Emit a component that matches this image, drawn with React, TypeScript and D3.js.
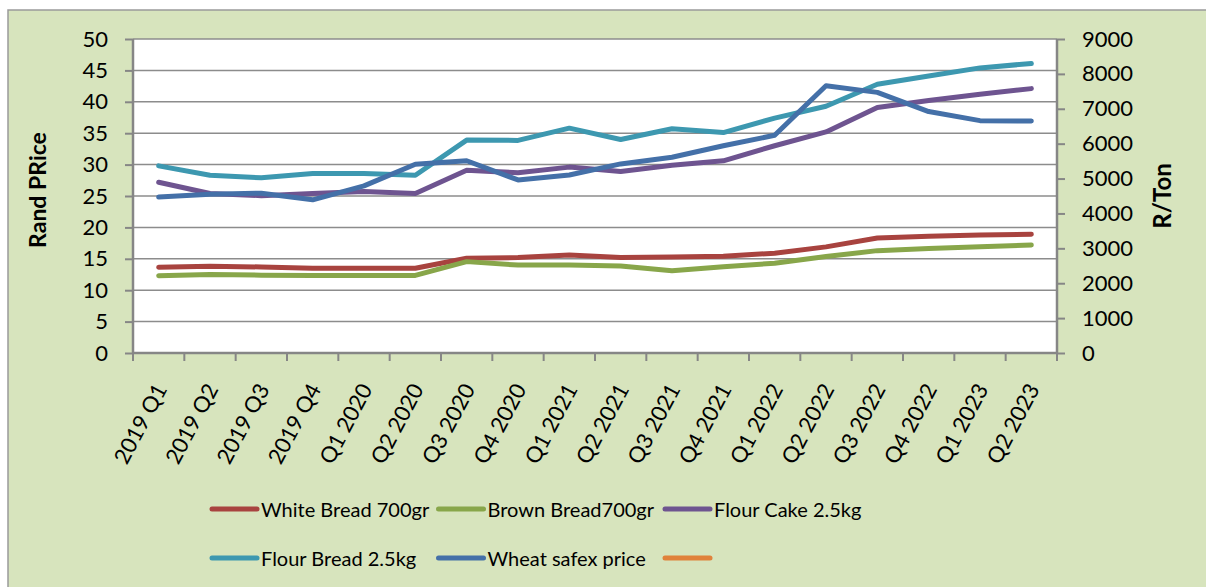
import React, { useRef, useEffect } from "react";
import { select, scaleLinear, scaleBand, line, axisLeft, axisRight, axisBottom } from "d3";

const quarters = [
  "2019 Q1", "2019 Q2", "2019 Q3", "2019 Q4", "Q1 2020", "Q2 2020",
  "Q3 2020", "Q4 2020", "Q1 2021", "Q2 2021", "Q3 2021", "Q4 2021",
  "Q1 2022", "Q2 2022", "Q3 2022", "Q4 2022", "Q1 2023", "Q2 2023",
];

const whiteBread = [13.65, 13.8, 13.7, 13.5, 13.5, 13.5, 15.1, 15.2, 15.6, 15.2, 15.3, 15.4, 15.9, 16.9, 18.3, 18.6, 18.8, 18.9];
const brownBread = [12.3, 12.5, 12.4, 12.35, 12.35, 12.35, 14.55, 14.0, 14.0, 13.85, 13.1, 13.75, 14.3, 15.35, 16.3, 16.65, 16.9, 17.2];
const flourCake = [27.2, 25.4, 25.05, 25.4, 25.7, 25.4, 29.1, 28.7, 29.6, 28.9, 29.9, 30.6, 33.0, 35.2, 39.1, 40.2, 41.2, 42.1];
const flourBread = [29.8, 28.3, 27.9, 28.6, 28.6, 28.3, 33.9, 33.85, 35.8, 34.0, 35.7, 35.1, 37.4, 39.3, 42.8, 44.1, 45.4, 46.1];
const wheatSafex = [4470, 4550, 4580, 4390, 4790, 5410, 5510, 4960, 5100, 5420, 5610, 5940, 6240, 7660, 7470, 6920, 6660, 6650];

const leftTicks = [0, 5, 10, 15, 20, 25, 30, 35, 40, 45, 50];
const rightTicks = [0, 1000, 2000, 3000, 4000, 5000, 6000, 7000, 8000, 9000];

const series = [
  { name: "White Bread 700gr", values: whiteBread, color: "#a8433f", axis: "left" },
  { name: "Brown Bread700gr", values: brownBread, color: "#88a64a", axis: "left" },
  { name: "Flour Cake 2.5kg", values: flourCake, color: "#6e5490", axis: "left" },
  { name: "Flour Bread 2.5kg", values: flourBread, color: "#3d98b0", axis: "left" },
  { name: "Wheat safex price", values: wheatSafex, color: "#4470a8", axis: "right" },
  { name: "", values: [] as number[], color: "#e0823b", axis: "left" },
];

const font = "Lato, 'Open Sans', sans-serif";

export default function App() {
  const svgRef = useRef<SVGSVGElement>(null);

  useEffect(() => {
    const svg = select(svgRef.current);
    svg.selectAll("*").remove();

    const left = 133, right = 1057, top = 39, bottom = 353;

    // background frame
    svg.append("rect")
      .attr("x", 8).attr("y", 10).attr("width", 1210).attr("height", 600)
      .attr("fill", "#d7e4bd").attr("stroke", "#9a9a9a").attr("stroke-width", 1.5);
    svg.append("rect")
      .attr("x", left).attr("y", top).attr("width", right - left).attr("height", bottom - top)
      .attr("fill", "#ffffff");

    const x = scaleBand().domain(quarters).range([left, right]);
    const yL = scaleLinear().domain([0, 50]).range([bottom, top]);
    const yR = scaleLinear().domain([0, 9000]).range([bottom, top]);

    // gridlines
    svg.append("g")
      .selectAll("line")
      .data(leftTicks)
      .join("line")
      .attr("x1", left).attr("x2", right)
      .attr("y1", (d) => yL(d)).attr("y2", (d) => yL(d))
      .attr("stroke", "#8c8c8c").attr("stroke-width", 1.5);

    // left axis
    const gL = svg.append("g").attr("transform", `translate(${left},0)`)
      .call(axisLeft(yL).tickValues(leftTicks).tickSize(8).tickPadding(17));
    // right axis
    const gR = svg.append("g").attr("transform", `translate(${right},0)`)
      .call(axisRight(yR).tickValues(rightTicks).tickSize(8).tickPadding(17).tickFormat((d) => String(d)));
    // bottom axis, ticks at category boundaries
    const gB = svg.append("g").attr("transform", `translate(0,${bottom})`)
      .call(axisBottom(x).tickSize(0).tickFormat(() => ""));
    gB.selectAll(".bnd")
      .data([...quarters.map((q) => x(q) as number), right])
      .join("line")
      .attr("class", "bnd")
      .attr("x1", (d) => d).attr("x2", (d) => d)
      .attr("y1", 0).attr("y2", 8);

    [gL, gR, gB].forEach((g) => {
      g.selectAll("path").attr("stroke", "#868686").attr("stroke-width", 2.5);
      g.selectAll("line").attr("stroke", "#868686").attr("stroke-width", 2);
      g.selectAll("text")
        .attr("font-family", font).attr("font-size", 22).attr("fill", "#000");
    });
    gL.select(".domain").attr("d", `M0,${top}V${bottom}`);
    gR.select(".domain").attr("d", `M0,${top}V${bottom}`);
    gB.select(".domain").attr("d", `M${left},0H${right}`);

    // rotated x labels
    svg.append("g")
      .selectAll("text")
      .data(quarters)
      .join("text")
      .attr("transform", (d) => `translate(${(x(d) as number) + x.bandwidth() / 2 + 9},389) rotate(-62)`)
      .attr("text-anchor", "end")
      .attr("font-family", font).attr("font-size", 22)
      .text((d) => d);

    // axis titles
    svg.append("text")
      .attr("transform", "translate(46,190) rotate(-90)")
      .attr("text-anchor", "middle")
      .attr("font-family", font).attr("font-size", 23).attr("font-weight", "bold")
      .text("Rand PRice");
    svg.append("text")
      .attr("transform", "translate(1171,196) rotate(-90)")
      .attr("text-anchor", "middle")
      .attr("font-family", font).attr("font-size", 24).attr("font-weight", "bold")
      .text("R/Ton");

    // lines
    series.filter((s) => s.values.length).forEach((s) => {
      const yS = s.axis === "right" ? yR : yL;
      const gen = line<number>()
        .x((_, i) => (x(quarters[i]) as number) + x.bandwidth() / 2)
        .y((d) => yS(d));
      svg.append("path")
        .datum(s.values)
        .attr("d", gen)
        .attr("fill", "none")
        .attr("stroke", s.color)
        .attr("stroke-width", 5)
        .attr("stroke-linecap", "round")
        .attr("stroke-linejoin", "round");
    });

    // legend
    const leg = svg.append("g")
      .selectAll("g")
      .data(series)
      .join("g")
      .attr("transform", (_, i) => `translate(${212 + (i % 3) * 226.5},${i < 3 ? 509 : 558})`);
    leg.append("line")
      .attr("x1", 0).attr("x2", 45).attr("y1", 0).attr("y2", 0)
      .attr("stroke", (d) => d.color).attr("stroke-width", 5).attr("stroke-linecap", "round");
    leg.append("text")
      .attr("x", 49).attr("y", 7.5)
      .attr("font-family", font).attr("font-size", 20)
      .text((d) => d.name);
  }, []);

  return (
    <svg
      ref={svgRef}
      width={1206}
      height={587}
      style={{ position: "absolute", left: 0, top: 0, display: "block" }}
    />
  );
}
